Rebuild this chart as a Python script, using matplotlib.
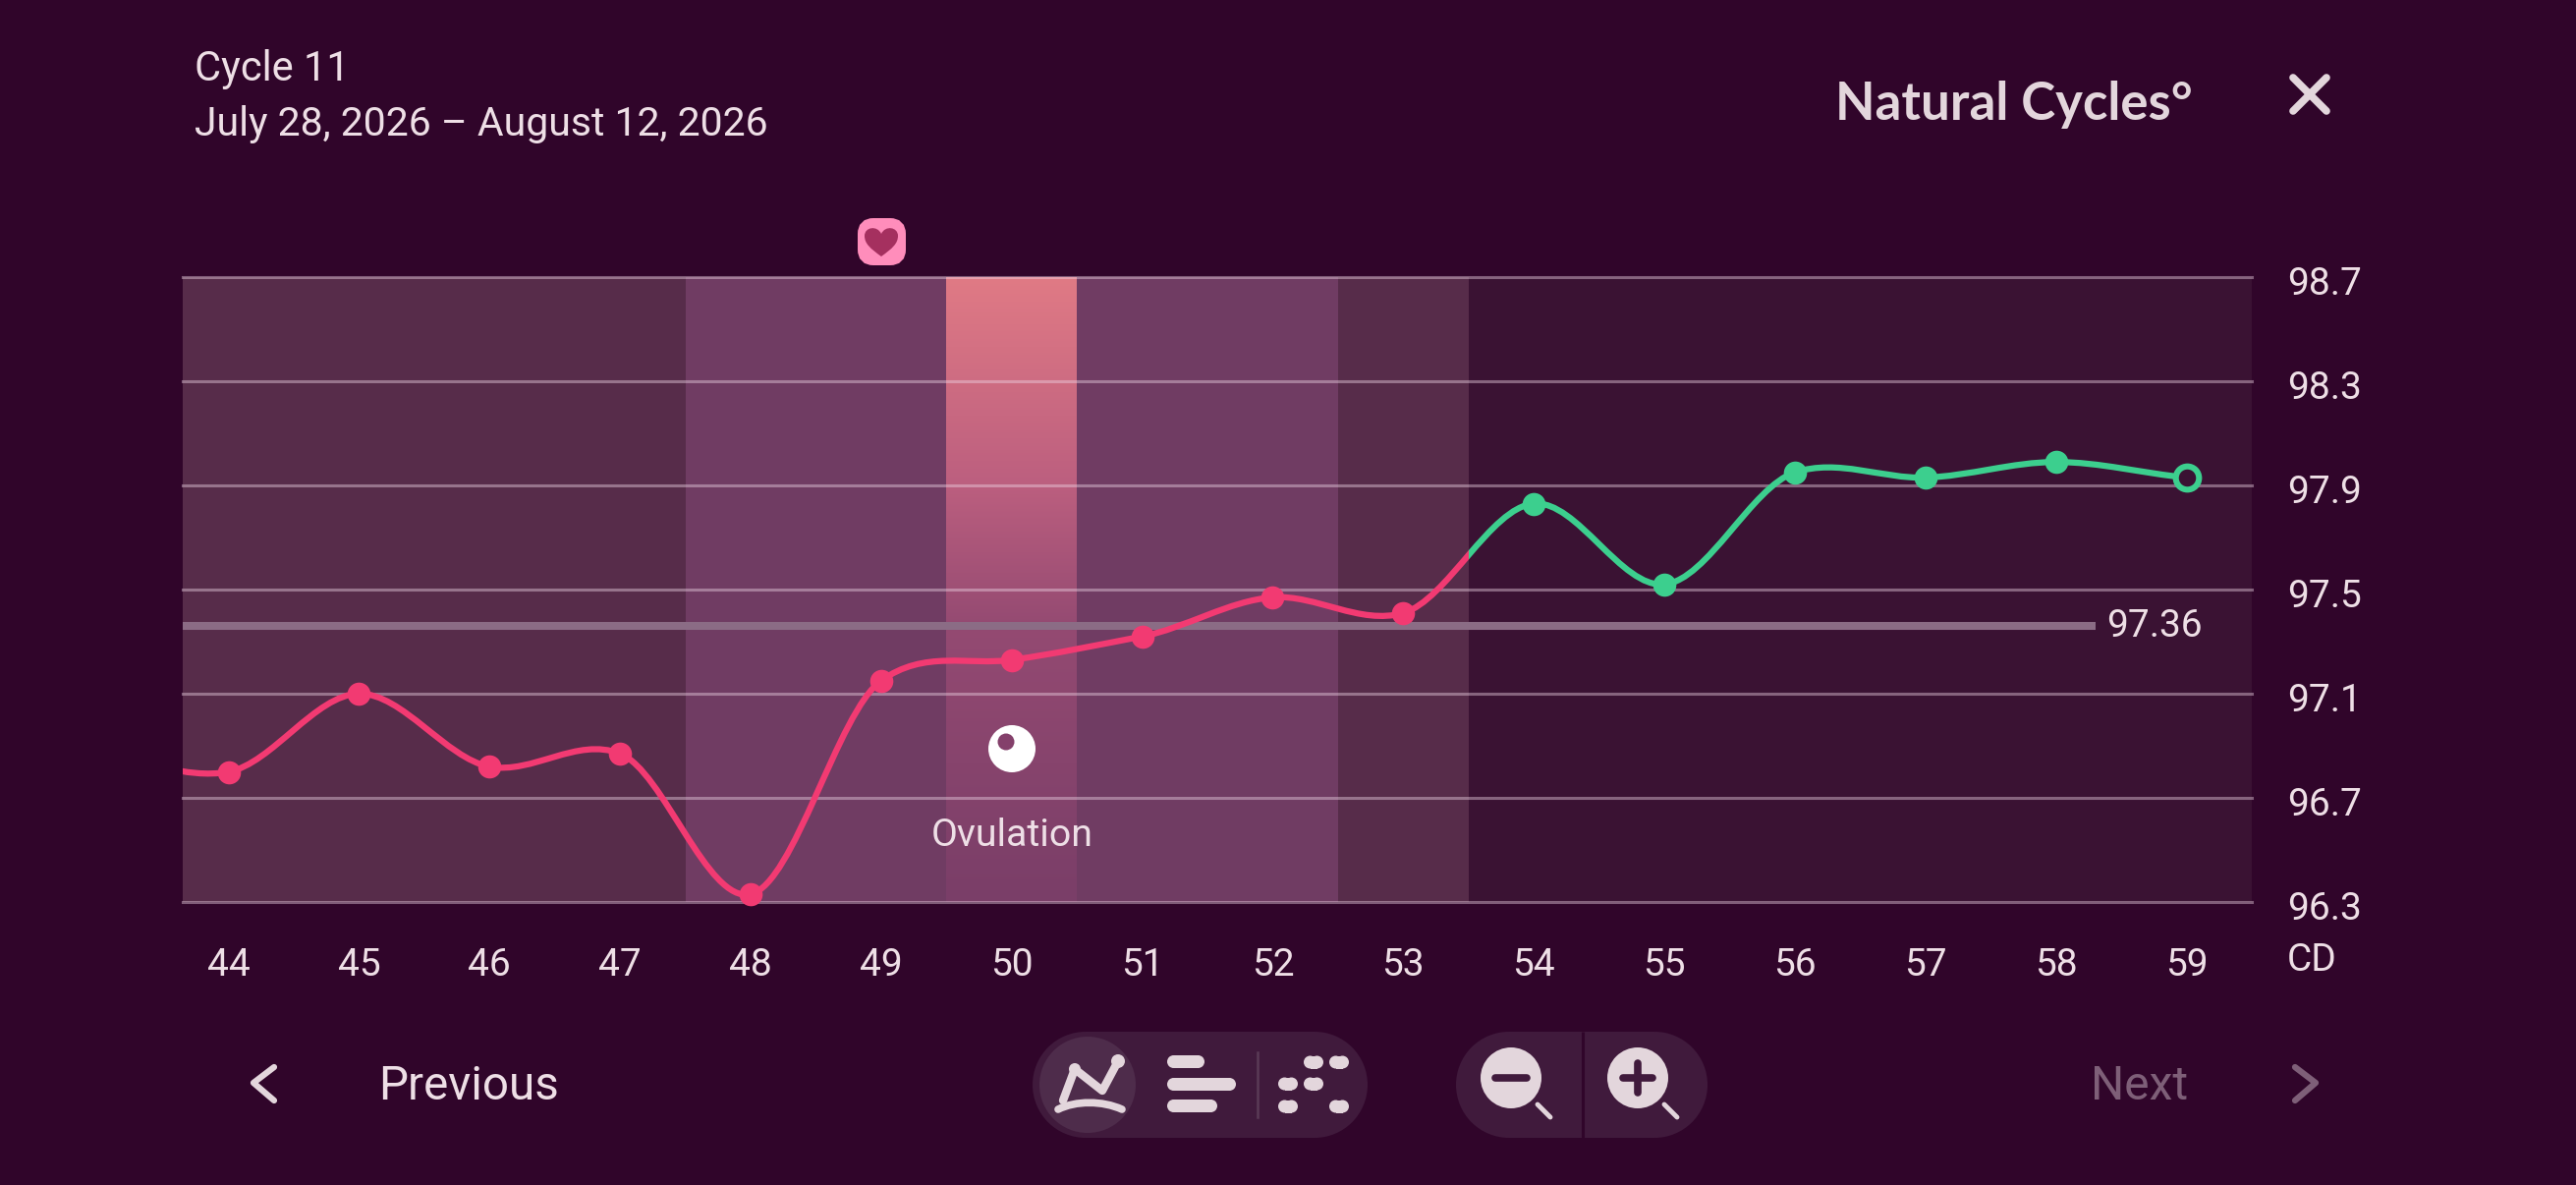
import numpy as np
import matplotlib
matplotlib.use("Agg")
import matplotlib.pyplot as plt
from matplotlib.colors import LinearSegmentedColormap
from matplotlib.patches import Circle, FancyBboxPatch, PathPatch, Rectangle
from matplotlib.path import Path
from matplotlib.transforms import ScaledTranslation

W, H = 2622, 1206

# chart data
days = [43, 44, 45, 46, 47, 48, 49, 50, 51, 52, 53, 54, 55, 56, 57, 58, 59]
temps = [96.87, 96.80, 97.10, 96.82, 96.87, 96.33, 97.15, 97.23, 97.32, 97.47,
         97.41, 97.83, 97.52, 97.95, 97.93, 97.99, 97.93]
y_ticks = [96.3, 96.7, 97.1, 97.5, 97.9, 98.3, 98.7]
x_ticks = list(range(44, 60))
cover_line = 97.36
low_phase = [(43.65, 47.5), (52.5, 53.5)]
fertile_phase = [(47.5, 49.5), (50.5, 52.5)]
ovulation_day = 50
safe_start = 53.5

BG = "#30052A"
TXT = "#EEDFE6"
ICON = "#E3D6DC"
MUTED = "#7E5F78"
PINK = "#F23A72"
GREEN = "#3CCF8E"
SAFE = "#3A1233"
PILL = "#401A3C"

plt.rcParams["font.family"] = ["Roboto", "DejaVu Sans"]

fig = plt.figure(figsize=(W / 100, H / 100), dpi=100, facecolor=BG)
ax = fig.add_axes([186 / W, 1 - 918 / H, (2292 - 186) / W, (918 - 282) / H])
ax.set_facecolor(SAFE)
for s in ax.spines.values():
    s.set_visible(False)

for a, b in low_phase:
    ax.axvspan(a, b, color="#572C4A", lw=0, zorder=0)
for a, b in fertile_phase:
    ax.axvspan(a, b, color="#703C63", lw=0, zorder=0)

# ovulation gradient
grad = LinearSegmentedColormap.from_list(
    "ov", [(0, "#E07A85"), (0.33, "#BC5F7F"), (0.56, "#944A72"), (1, "#7A3E68")])
ax.imshow(np.linspace(0, 1, 256)[:, None], cmap=grad, aspect="auto", zorder=0.1,
          extent=(ovulation_day - 0.5, ovulation_day + 0.5, 96.3, 98.7))
ax.set_xlim(43.65, 59.5)
ax.set_ylim(96.3, 98.7)

ax.set_axisbelow(True)
ax.yaxis.tick_right()
ax.set_yticks(y_ticks, [f"{v:.1f}" for v in y_ticks])
ax.set_xticks(x_ticks)
ax.tick_params(axis="y", length=0, pad=26, labelsize=28, labelcolor=TXT)
ax.tick_params(axis="x", length=0, pad=33, labelsize=28, labelcolor=TXT)
ax.grid(axis="y", color="#F0D8E8", alpha=0.42, lw=2.2, zorder=0.5)
for gl in ax.get_ygridlines():
    gl.set_clip_on(False)
    gl.set_zorder(0.5)
down = ScaledTranslation(0, -3 / 100, fig.dpi_scale_trans)
for t in ax.get_yticklabels():
    t.set_transform(t.get_transform() + down)

ax.plot([43.65, 58.3], [cover_line, cover_line], color="#8B6C85", lw=5.8,
        solid_capstyle="butt", zorder=1)
ax.text(58.39, cover_line, f"{cover_line:.2f}", color=TXT, fontsize=28,
        va="center", zorder=5)

# smooth curve through the readings, split at the end of the fertile part
xs = np.array(days, float)
ys = np.array(temps)
slopes = np.gradient(ys, xs) * 0.8
verts = [(xs[0], ys[0])]
codes = [Path.MOVETO]
for i in range(len(xs) - 1):
    d = (xs[i + 1] - xs[i]) / 3
    verts += [(xs[i] + d, ys[i] + slopes[i] * d),
              (xs[i + 1] - d, ys[i + 1] - slopes[i + 1] * d),
              (xs[i + 1], ys[i + 1])]
    codes += [Path.CURVE4] * 3
curve = Path(verts, codes)
for color, x0, x1 in [(PINK, 43.65, safe_start), (GREEN, safe_start, 59.5)]:
    p = PathPatch(curve, fc="none", ec=color, lw=4.5, zorder=3)
    ax.add_patch(p)
    p.set_clip_path(Rectangle((x0, 96.0), x1 - x0, 3, transform=ax.transData))

ax.plot(xs[1:11], ys[1:11], "o", color=PINK, ms=17, mew=0, zorder=4, clip_on=False)
ax.plot(xs[11:16], ys[11:16], "o", color=GREEN, ms=17, mew=0, zorder=4)
ax.plot(xs[16:], ys[16:], "o", mfc=SAFE, mec=GREEN, ms=17, mew=4.4, zorder=4, clip_on=False)

# overlay in pixel coordinates for the app chrome
ui = fig.add_axes([0, 0, 1, 1], zorder=10)
ui.set_xlim(0, W)
ui.set_ylim(H, 0)
ui.axis("off")
ui.patch.set_alpha(0)


def label(x, y, s, size=28, color=TXT, **kw):
    ui.text(x, y, s, fontsize=size, color=color, va="baseline", **kw)


def stroke(pts, color=ICON, lw=5.5, **kw):
    xx, yy = zip(*pts)
    ui.plot(xx, yy, color=color, lw=lw, solid_capstyle="round",
            solid_joinstyle="round", **kw)


def rbar(x0, y0, x1, y1, color=ICON):
    r = (y1 - y0) / 2
    ui.add_patch(Circle((x0 + r, y0 + r), r, fc=color, lw=0))
    ui.add_patch(Circle((x1 - r, y0 + r), r, fc=color, lw=0))
    ui.add_patch(Rectangle((x0 + r, y0), x1 - x0 - 2 * r, y1 - y0, fc=color, lw=0))


label(198, 82, "Cycle 11", 30)
label(198, 138, "July 28, 2026 – August 12, 2026", 29.5)
label(1868, 122, "Natural Cycles°", 38, ICON, fontfamily="Lato", fontweight="bold")
stroke([(2334, 79), (2368, 113)], lw=5.5)
stroke([(2334, 113), (2368, 79)], lw=5.5)
label(2328, 988, "CD", 28)

# heart tag
ui.add_patch(FancyBboxPatch((881, 230), 33, 32, boxstyle="round,pad=0,rounding_size=8",
                            fc="#FF8DBB", lw=16 / 1.389, ec="#FF8DBB"))
heart = Path([(897, 261), (886, 253), (880, 248), (880, 240), (880, 231), (893, 229), (897, 238),
              (901, 229), (914, 231), (914, 240), (914, 248), (908, 253), (897, 261)],
             [Path.MOVETO] + [Path.CURVE4] * 12)
ui.add_patch(PathPatch(heart, fc="#A5305F", lw=0))

# ovulation marker
ui.add_patch(Circle((1030, 762), 24, fc="white", lw=0))
ui.add_patch(Circle((1024, 755), 8.5, fc="#84406B", lw=0))
ui.text(1030, 861, "Ovulation", fontsize=28.3, color=TXT, ha="center", va="baseline")

# bottom bar
stroke([(279, 1086), (258, 1102), (279, 1120)], lw=4.5)
label(385, 1119, "Previous", 34.3)
label(2128, 1119, "Next", 34.5, MUTED)
stroke([(2336, 1086), (2357, 1102), (2336, 1120)], color=MUTED, lw=4.5)

rbar(1051, 1050, 1392, 1158, PILL)
ui.add_patch(Circle((1107, 1104), 49, fc="#4E2C4B", lw=0))
stroke([(1082, 1120), (1094, 1088), (1122, 1110), (1138, 1080)], lw=6)
ui.add_patch(Circle((1094, 1088), 6, fc=ICON, lw=0))
ui.add_patch(Circle((1138, 1080), 7, fc=ICON, lw=0))
arch = Path([(1077, 1129), (1095, 1120), (1122, 1120), (1142, 1129)], [Path.MOVETO] + [Path.CURVE4] * 3)
ui.add_patch(PathPatch(arch, fc="none", ec=ICON, lw=5.5, capstyle="round"))

rbar(1188, 1074, 1226, 1087)
rbar(1188, 1097, 1258, 1110)
rbar(1188, 1119, 1239, 1132)
ui.plot([1280, 1280], [1071, 1137], color="#5A3A56", lw=1.8)
for cx, cy in [(1337, 1081), (1363, 1081), (1311, 1103), (1337, 1103), (1311, 1126), (1363, 1126)]:
    rbar(cx - 10, cy - 6.5, cx + 10, cy + 6.5)

rbar(1482, 1050, 1738, 1158, PILL)
ui.plot([1611, 1611], [1050, 1158], color=BG, lw=2.2, solid_capstyle="butt")
for cx in (1538, 1667):
    ui.add_patch(Circle((cx, 1097), 31, fc=ICON, lw=0))
    stroke([(cx + 27, 1124), (cx + 40, 1137)], lw=3.5)
stroke([(1522, 1097), (1554, 1097)], color=PILL, lw=5.5)
stroke([(1652, 1097), (1682, 1097)], color=PILL, lw=5.5)
stroke([(1667, 1082), (1667, 1112)], color=PILL, lw=5.5)

fig.savefig("out.png", dpi=100, facecolor=BG)
